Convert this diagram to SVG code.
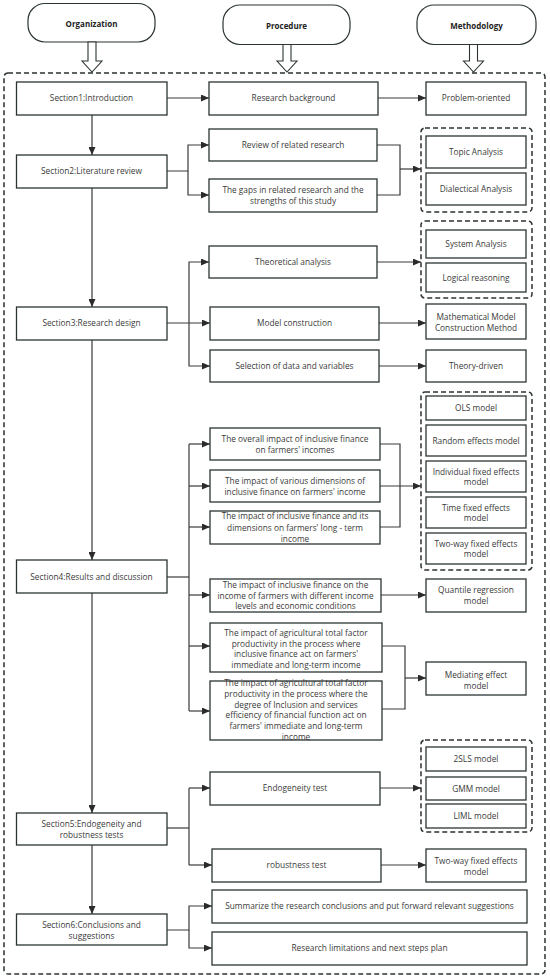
<svg xmlns="http://www.w3.org/2000/svg" width="550" height="978" viewBox="0 0 550 978">
<style>
.box{fill:#fff;stroke:#2b3333;stroke-width:1.3}
.pill{fill:#fff;stroke:#2b3333;stroke-width:1.2}
.grp{fill:none;stroke:#2b3333;stroke-width:1.5;stroke-dasharray:5 3}
.t{font-family:"Open Sans","Noto Sans",sans-serif;font-size:8.3px;fill:#3a3a3a;text-anchor:middle}
.h{font-family:"Open Sans","Noto Sans",sans-serif;font-size:8px;font-weight:bold;fill:#222;text-anchor:middle}
.c{fill:none;stroke:#3a3a3a;stroke-width:1.2}
.ha{fill:#fff;stroke:#2b3333;stroke-width:1.1}
</style>
<defs>
<marker id="ar" markerUnits="userSpaceOnUse" markerWidth="8" markerHeight="7" refX="8" refY="3.5" orient="auto">
<path d="M0,0 L8,3.5 L0,7 z" fill="#2b2b2b"/>
</marker>
</defs>
<rect x="4" y="73" width="541" height="901" rx="4" class="grp"/>
<g id="hdr-org"><rect class="pill" x="28" y="3.5" width="127" height="38.5" rx="17"/><text class="h" x="91.5" y="27">Organization</text></g>
<g id="hdr-proc"><rect class="pill" x="223" y="5" width="127" height="39.5" rx="17"/><text class="h" x="286.5" y="28.5">Procedure</text></g>
<g id="hdr-meth"><rect class="pill" x="417" y="5" width="119" height="39.5" rx="17"/><text class="h" x="476.5" y="28.5">Methodology</text></g>
<g id="harrows">
<polygon class="ha" points="88,42 96,42 96,61 102,61 92,72 82,61 88,61"/>
<polygon class="ha" points="283,44.5 291,44.5 291,61 297,61 287,72 277,61 283,61"/>
<polygon class="ha" points="469.5,44.5 477.5,44.5 477.5,61 483.5,61 473.5,72 463.5,61 469.5,61"/>
</g>
<g id="connectors">
<path class="c" d="M167,98 H209" marker-end="url(#ar)"/>
<path class="c" d="M378,98 H426" marker-end="url(#ar)"/>
<path class="c" d="M92,115 V155" marker-end="url(#ar)"/>
<path class="c" d="M167,171 H188 V145 H209" marker-end="url(#ar)"/>
<path class="c" d="M188,171 V195 H209" marker-end="url(#ar)"/>
<path class="c" d="M377,145 H400 V195 H377"/>
<path class="c" d="M400,169 H421" marker-end="url(#ar)"/>
<path class="c" d="M92,188 V307" marker-end="url(#ar)"/>
<path class="c" d="M167,323 H210" marker-end="url(#ar)"/>
<path class="c" d="M189,323 V262 H209" marker-end="url(#ar)"/>
<path class="c" d="M189,323 V366 H210" marker-end="url(#ar)"/>
<path class="c" d="M377,262 H421" marker-end="url(#ar)"/>
<path class="c" d="M379,323 H426" marker-end="url(#ar)"/>
<path class="c" d="M379,366 H426" marker-end="url(#ar)"/>
<path class="c" d="M92,340 V560" marker-end="url(#ar)"/>
<path class="c" d="M167,577 H189"/>
<path class="c" d="M189,444 V711"/>
<path class="c" d="M189,444 H210" marker-end="url(#ar)"/>
<path class="c" d="M189,486 H210" marker-end="url(#ar)"/>
<path class="c" d="M189,527 H210" marker-end="url(#ar)"/>
<path class="c" d="M189,595 H210" marker-end="url(#ar)"/>
<path class="c" d="M189,646 H210" marker-end="url(#ar)"/>
<path class="c" d="M189,711 H210" marker-end="url(#ar)"/>
<path class="c" d="M380,444 H400 V527 H380"/>
<path class="c" d="M380,486 H421" marker-end="url(#ar)"/>
<path class="c" d="M381,595 H426" marker-end="url(#ar)"/>
<path class="c" d="M382,646 H405 V709 H382"/>
<path class="c" d="M405,678 H426" marker-end="url(#ar)"/>
<path class="c" d="M92,593 V813" marker-end="url(#ar)"/>
<path class="c" d="M167,828 H189"/>
<path class="c" d="M189,788 V865"/>
<path class="c" d="M189,788 H210" marker-end="url(#ar)"/>
<path class="c" d="M189,865 H212" marker-end="url(#ar)"/>
<path class="c" d="M380,788 H421" marker-end="url(#ar)"/>
<path class="c" d="M381,865 H426" marker-end="url(#ar)"/>
<path class="c" d="M92,845 V914" marker-end="url(#ar)"/>
<path class="c" d="M167,930 H189 V906 H212" marker-end="url(#ar)"/>
<path class="c" d="M189,930 V948 H212" marker-end="url(#ar)"/>
</g>
<g id="groups">
<rect class="grp" x="421" y="128" width="111" height="84" rx="4"/>
<rect class="grp" x="421" y="221" width="111" height="77" rx="4"/>
<rect class="grp" x="421" y="392" width="111" height="178" rx="4"/>
<rect class="grp" x="421" y="740" width="111" height="92" rx="4"/>
</g>
<g id="s1"><rect class="box" x="16.5" y="82" width="150.5" height="33"/><text class="t" x="91.5" y="101">Section1:Introduction</text></g>
<g id="rb"><rect class="box" x="209" y="82" width="169" height="33"/><text class="t" x="293.5" y="101">Research background</text></g>
<g id="po"><rect class="box" x="426" y="82" width="100" height="33"/><text class="t" x="476" y="101">Problem-oriented</text></g>
<g id="s2"><rect class="box" x="16.5" y="155" width="150.5" height="33"/><text class="t" x="91.5" y="174">Section2:Literature review</text></g>
<g id="rr"><rect class="box" x="209" y="129" width="168" height="32"/><text class="t" x="293" y="148">Review of related research</text></g>
<g id="gaps"><rect class="box" x="209" y="179" width="168" height="33"/><text class="t" x="293" y="193">The gaps in related research and the</text><text class="t" x="293" y="204">strengths of this study</text></g>
<g id="ta"><rect class="box" x="426" y="136" width="100" height="32"/><text class="t" x="476" y="155">Topic Analysis</text></g>
<g id="da"><rect class="box" x="426" y="173" width="100" height="32"/><text class="t" x="476" y="192">Dialectical Analysis</text></g>
<g id="sa"><rect class="box" x="426" y="230" width="100" height="28"/><text class="t" x="476" y="247">System Analysis</text></g>
<g id="lr"><rect class="box" x="426" y="263" width="100" height="29"/><text class="t" x="476" y="280.5">Logical reasoning</text></g>
<g id="th"><rect class="box" x="209" y="246" width="168" height="32"/><text class="t" x="293" y="265">Theoretical analysis</text></g>
<g id="s3"><rect class="box" x="16.5" y="307" width="150.5" height="33"/><text class="t" x="91.5" y="326">Section3:Research design</text></g>
<g id="mc"><rect class="box" x="210" y="307" width="169" height="33"/><text class="t" x="294.5" y="326">Model construction</text></g>
<g id="mm"><rect class="box" x="426" y="304" width="100" height="35"/><text class="t" x="476" y="320">Mathematical Model</text><text class="t" x="476" y="330.5">Construction Method</text></g>
<g id="sel"><rect class="box" x="210" y="350" width="169" height="32"/><text class="t" x="294.5" y="369">Selection of data and variables</text></g>
<g id="td"><rect class="box" x="426" y="350" width="100" height="32"/><text class="t" x="476" y="369">Theory-driven</text></g>
<g id="ols"><rect class="box" x="426" y="396" width="100" height="24"/><text class="t" x="476" y="411">OLS model</text></g>
<g id="re"><rect class="box" x="426" y="425" width="100" height="31"/><text class="t" x="476" y="443.5">Random effects model</text></g>
<g id="ife"><rect class="box" x="426" y="461" width="100" height="31"/><text class="t" x="476" y="474.5">Individual fixed effects</text><text class="t" x="476" y="485">model</text></g>
<g id="tfe"><rect class="box" x="426" y="497" width="100" height="31"/><text class="t" x="476" y="510.5">Time fixed effects</text><text class="t" x="476" y="521">model</text></g>
<g id="twfe"><rect class="box" x="426" y="533" width="100" height="31"/><text class="t" x="476" y="547">Two-way fixed effects</text><text class="t" x="476" y="557">model</text></g>
<g id="b1"><rect class="box" x="210" y="428" width="170" height="32"/><text class="t" x="295" y="442">The overall impact of inclusive finance</text><text class="t" x="295" y="452.5">on farmers' incomes</text></g>
<g id="b2"><rect class="box" x="210" y="470" width="170" height="32"/><text class="t" x="295" y="484">The impact of various dimensions of</text><text class="t" x="295" y="495">inclusive finance on farmers' income</text></g>
<g id="b3"><rect class="box" x="210" y="511" width="170" height="33"/><text class="t" x="295" y="518.5">The impact of inclusive finance and its</text><text class="t" x="295" y="530.5">dimensions on farmers' long - term</text><text class="t" x="295" y="542">income</text></g>
<g id="s4"><rect class="box" x="16.5" y="560" width="150.5" height="33"/><text class="t" x="91.5" y="580">Section4:Results and discussion</text></g>
<g id="b4"><rect class="box" x="210" y="579" width="171" height="33"/><text class="t" x="295.5" y="588">The impact of inclusive finance on the</text><text class="t" x="295.5" y="598.5">income of farmers with different income</text><text class="t" x="295.5" y="609">levels and economic conditions</text></g>
<g id="qr"><rect class="box" x="426" y="579" width="100" height="33"/><text class="t" x="476" y="593">Quantile regression</text><text class="t" x="476" y="604">model</text></g>
<g id="b5"><rect class="box" x="210" y="623" width="172" height="49"/><text class="t" x="296" y="636">The impact of agricultural total factor</text><text class="t" x="296" y="646.5">productivity in the process where</text><text class="t" x="296" y="657">inclusive finance  act on farmers'</text><text class="t" x="296" y="667.5">immediate and long-term income</text></g>
<g id="b6"><rect class="box" x="210" y="681" width="172" height="59"/><text class="t" x="296" y="686">The impact of agricultural total factor</text><text class="t" x="296" y="697">productivity in the process where the</text><text class="t" x="296" y="707.5">degree of Inclusion and services</text><text class="t" x="296" y="718">efficiency of financial function  act on</text><text class="t" x="296" y="728.5">farmers' immediate and long-term</text><text class="t" x="296" y="739.5">income</text></g>
<g id="med"><rect class="box" x="426" y="662" width="100" height="33"/><text class="t" x="476" y="678">Mediating effect</text><text class="t" x="476" y="688.5">model</text></g>
<g id="tsls"><rect class="box" x="426" y="747" width="100" height="24"/><text class="t" x="476" y="762">2SLS model</text></g>
<g id="gmm"><rect class="box" x="426" y="777" width="100" height="23"/><text class="t" x="476" y="791.5">GMM model</text></g>
<g id="liml"><rect class="box" x="426" y="804" width="100" height="24"/><text class="t" x="476" y="819">LIML  model</text></g>
<g id="endo"><rect class="box" x="210" y="772" width="170" height="33"/><text class="t" x="295" y="791">Endogeneity test</text></g>
<g id="s5"><rect class="box" x="16.5" y="813" width="150.5" height="32"/><text class="t" x="91.5" y="827">Section5:Endogeneity and</text><text class="t" x="91.5" y="837.5">robustness tests</text></g>
<g id="rob"><rect class="box" x="212" y="849" width="169" height="33"/><text class="t" x="296.5" y="868">robustness test</text></g>
<g id="twfe2"><rect class="box" x="426" y="849" width="100" height="33"/><text class="t" x="476" y="864">Two-way fixed effects</text><text class="t" x="476" y="874.5">model</text></g>
<g id="s6"><rect class="box" x="16.5" y="914" width="150.5" height="31"/><text class="t" x="91.5" y="928">Section6:Conclusions and</text><text class="t" x="91.5" y="939">suggestions</text></g>
<g id="sum"><rect class="box" x="212" y="890" width="315" height="33"/><text class="t" x="369.5" y="909">Summarize the research conclusions and put forward relevant suggestions</text></g>
<g id="lim"><rect class="box" x="212" y="932" width="315" height="33"/><text class="t" x="369.5" y="951">Research limitations and next steps plan</text></g>
</svg>
